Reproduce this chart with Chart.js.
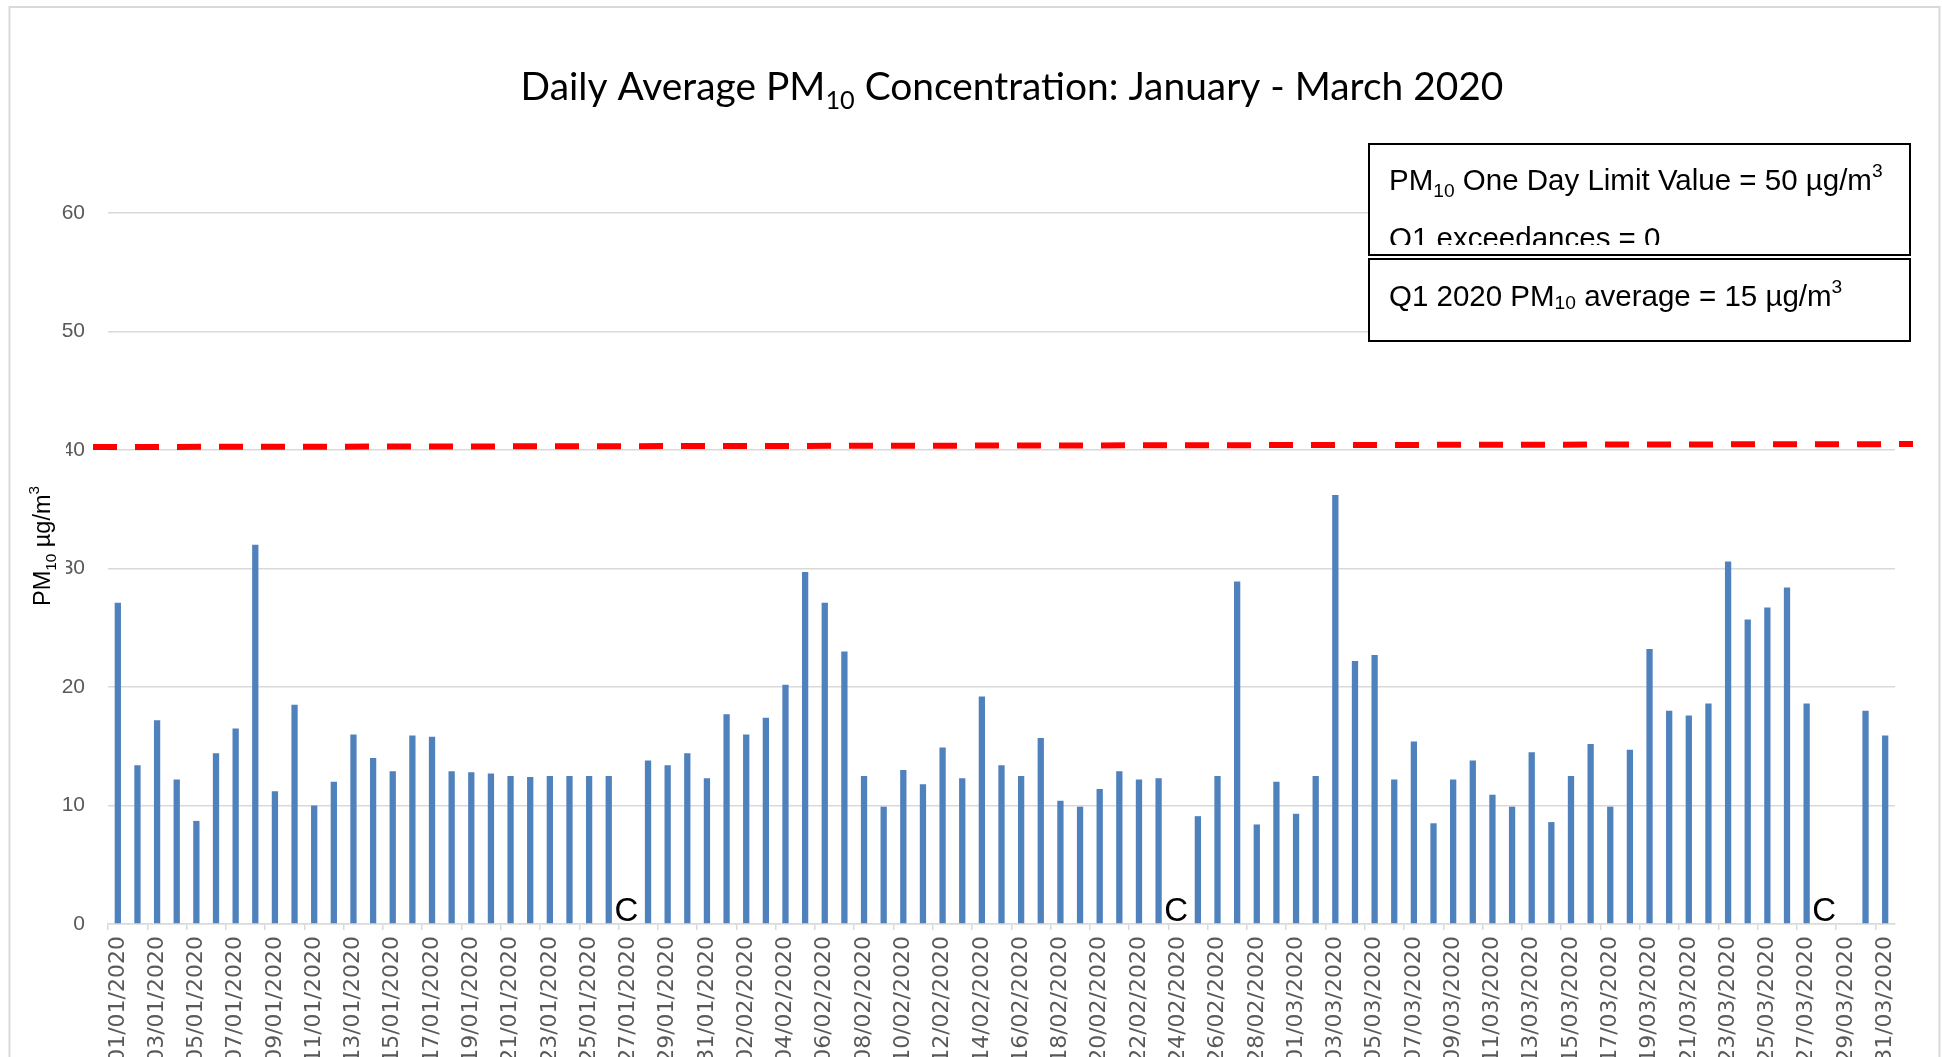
<!DOCTYPE html>
<html>
<head>
<meta charset="utf-8">
<title>Daily Average PM10 Concentration: January - March 2020</title>
<script src="https://cdn.jsdelivr.net/npm/chart.js@4.4.1/dist/chart.umd.min.js"></script>
<style>
  html, body { margin: 0; padding: 0; background: #fff; overflow: hidden; }
  #wrap { position: relative; width: 1942px; height: 1057px; }
</style>
</head>
<body>
<div id="wrap"><canvas id="pmChart"></canvas></div>
<script>
/* Daily PM10 bar chart, Q1 2020 */

// month number + days in month (2020 is a leap year)
const MONTHS = [['01', 31], ['02', 29], ['03', 31]];

// daily averages, ug/m3 (null = no data, marked "C")
const JAN = [27.1, 13.4, 17.2, 12.2, 8.7, 14.4, 16.5, 32.0, 11.2, 18.5,
             10.0, 12.0, 16.0, 14.0, 12.9, 15.9, 15.8, 12.9, 12.8, 12.7,
             12.5, 12.4, 12.5, 12.5, 12.5, 12.5, null, 13.8, 13.4, 14.4, 12.3];
const FEB = [17.7, 16.0, 17.4, 20.2, 29.7, 27.1, 23.0, 12.5, 9.9, 13.0,
             11.8, 14.9, 12.3, 19.2, 13.4, 12.5, 15.7, 10.4, 9.9, 11.4,
             12.9, 12.2, 12.3, null, 9.1, 12.5, 28.9, 8.4, 12.0];
const MAR = [9.3, 12.5, 36.2, 22.2, 22.7, 12.2, 15.4, 8.5, 12.2, 13.8,
             10.9, 9.9, 14.5, 8.6, 12.5, 15.2, 9.9, 14.7, 23.2, 18.0,
             17.6, 18.6, 30.6, 25.7, 26.7, 28.4, 18.6, null, null, 18.0, 15.9];

const Y_TICKS = [0, 10, 20, 30, 40, 50, 60];
const CLOSED_DAYS = ['27/01/2020', '24/02/2020', '28/03/2020'];
const CLOSED_MARK = 'C';
// red dashed reference line, value at left and right end
const LIMIT_LINE = [40.25, 40.5];

const TITLE_PARTS = [['Daily Average PM', ''], ['10', 'sub'], [' Concentration: January - March 2020', '']];
const Y_TITLE_PARTS = [['PM', ''], ['10', 'sub'], [' µg/m', ''], ['3', 'sup']];
const NOTE_1 = [['PM', ''], ['10', 'sub'], [' One Day Limit Value = 50 µg/m', ''], ['3', 'sup']];
const NOTE_2 = [['Q1 exceedances = 0', '']];
const NOTE_3 = [['Q1 2020 PM', ''], ['10', 'sub2'], [' average = 15 µg/m', ''], ['3', 'sup']];

const DAY_LABELS = [];
MONTHS.forEach(([m, n]) => {
  for (let d = 1; d <= n; d++) DAY_LABELS.push(String(d).padStart(2, '0') + '/' + m + '/2020');
});
const VALUES = [...JAN, ...FEB, ...MAR];

const BAR_BLUE = '#4f81bd';
const GRID = '#d9d9d9';
const TICK_GREY = '#595959';

// rich text helper: parts = [[text, 'sub'|'sup'|'sub2'|''], ...]
function partFont(size, family, mode) {
  const s = mode ? size * 0.65 : size;
  return s.toFixed(1) + 'px ' + family;
}
function richWidth(ctx, parts, size, family) {
  let w = 0;
  parts.forEach(([t, mode]) => { ctx.font = partFont(size, family, mode); w += ctx.measureText(t).width; });
  return w;
}
function drawRich(ctx, parts, x, y, size, family, align) {
  const w = richWidth(ctx, parts, size, family);
  let cx = align === 'center' ? x - w / 2 : x;
  ctx.textAlign = 'left';
  ctx.textBaseline = 'alphabetic';
  parts.forEach(([t, mode]) => {
    ctx.font = partFont(size, family, mode);
    let dy = 0;
    if (mode === 'sub') dy = size * 0.24;
    if (mode === 'sub2') dy = size * 0.1;
    if (mode === 'sup') dy = -size * 0.45;
    ctx.fillText(t, cx, y + dy);
    cx += ctx.measureText(t).width;
  });
}

const decorPlugin = {
  id: 'decor',
  beforeDraw(chart) {
    const { ctx, width, height } = chart;
    ctx.save();
    ctx.fillStyle = '#fff';
    ctx.fillRect(0, 0, width, height);
    ctx.strokeStyle = GRID;
    ctx.lineWidth = 2;
    ctx.strokeRect(9.5, 7, width - 12, height + 50);
    ctx.restore();
  },
  afterDatasetsDraw(chart) {
    const { ctx, chartArea } = chart;
    const x = chart.scales.x, y = chart.scales.y;
    ctx.save();
    // limit line
    ctx.strokeStyle = '#ff0000';
    ctx.lineWidth = 6;
    ctx.setLineDash([24, 18]);
    ctx.beginPath();
    ctx.moveTo(chartArea.left - 15, y.getPixelForValue(LIMIT_LINE[0]));
    ctx.lineTo(chartArea.right + 18, y.getPixelForValue(LIMIT_LINE[1]));
    ctx.stroke();
    ctx.setLineDash([]);
    // missing-day markers
    ctx.fillStyle = '#000';
    ctx.font = '33px "Liberation Sans", Arial, sans-serif';
    ctx.textAlign = 'center';
    ctx.textBaseline = 'alphabetic';
    CLOSED_DAYS.forEach(d => {
      const i = DAY_LABELS.indexOf(d);
      ctx.fillText(CLOSED_MARK, x.getPixelForValue(i) - 2, y.getPixelForValue(0) - 3);
    });
    ctx.restore();
  },
  afterDraw(chart) {
    const { ctx } = chart;
    ctx.save();
    ctx.fillStyle = '#000';

    // title, sized to the reference width
    const tFam = 'Lato, "Noto Sans", sans-serif';
    const tSize = 40 * 983 / richWidth(ctx, TITLE_PARTS, 40, tFam);
    drawRich(ctx, TITLE_PARTS, 1012, 100, tSize, tFam, 'center');

    // y axis title in a white text box (it hides part of the 40 / 30 labels)
    ctx.fillStyle = '#fff';
    ctx.fillRect(18, 432, 48, 165);
    ctx.fillStyle = '#000';
    ctx.save();
    ctx.translate(50, 546);
    ctx.rotate(-Math.PI / 2);
    drawRich(ctx, Y_TITLE_PARTS, 0, 0, 23.5, '"Liberation Sans", Arial, sans-serif', 'center');
    ctx.restore();

    // note boxes
    const nFam = '"Liberation Sans", Arial, sans-serif';
    ctx.fillStyle = '#fff';
    ctx.fillRect(1369, 144, 541, 111);
    ctx.fillRect(1369, 259, 541, 82);
    ctx.strokeStyle = '#000';
    ctx.lineWidth = 2;
    ctx.strokeRect(1369, 144, 541, 111);
    ctx.strokeRect(1369, 259, 541, 82);
    ctx.fillStyle = '#000';
    drawRich(ctx, NOTE_1, 1389, 190, 29.5, nFam, 'left');
    ctx.save();
    ctx.beginPath();
    ctx.rect(1370, 145, 538, 100);
    ctx.clip();
    drawRich(ctx, NOTE_2, 1389, 248, 29.5, nFam, 'left');
    ctx.restore();
    drawRich(ctx, NOTE_3, 1389, 306, 29.5, nFam, 'left');
    ctx.restore();
  },
};

new Chart(document.getElementById('pmChart'), {
  type: 'bar',
  data: {
    labels: DAY_LABELS,
    datasets: [{
      label: 'PM10',
      data: VALUES,
      backgroundColor: BAR_BLUE,
      barPercentage: 0.32,
      categoryPercentage: 1,
    }],
  },
  options: {
    responsive: true,
    maintainAspectRatio: false,
    animation: false,
    layout: { padding: { top: 213, right: 47, left: 0, bottom: 0 } },
    plugins: {
      legend: { display: false },
      title: { display: false },
      tooltip: { enabled: false },
    },
    scales: {
      x: {
        afterFit: s => { s.height = 133; },
        border: { display: true, color: GRID, width: 1.5 },
        grid: {
          drawOnChartArea: false,
          drawTicks: true,
          tickLength: 6,
          lineWidth: 1.5,
          color: c => (c.index % 2 === 0 ? GRID : 'rgba(0,0,0,0)'),
        },
        ticks: {
          autoSkip: false,
          minRotation: 90,
          maxRotation: 90,
          padding: 6,
          color: TICK_GREY,
          font: { family: '"DejaVu Sans"', size: 22 },
          callback: (v, i) => (i % 2 === 0 ? DAY_LABELS[i] : ''),
        },
      },
      y: {
        min: Y_TICKS[0],
        max: Y_TICKS[Y_TICKS.length - 1],
        afterFit: s => { s.width = 108; },
        afterBuildTicks: s => { s.ticks = Y_TICKS.map(v => ({ value: v })); },
        border: { display: false },
        grid: { color: GRID, lineWidth: 1.5, drawTicks: false },
        ticks: {
          padding: 23,
          color: TICK_GREY,
          font: { family: '"Liberation Sans", Arial', size: 21 },
        },
      },
    },
  },
  plugins: [decorPlugin],
});
</script>
</body>
</html>
